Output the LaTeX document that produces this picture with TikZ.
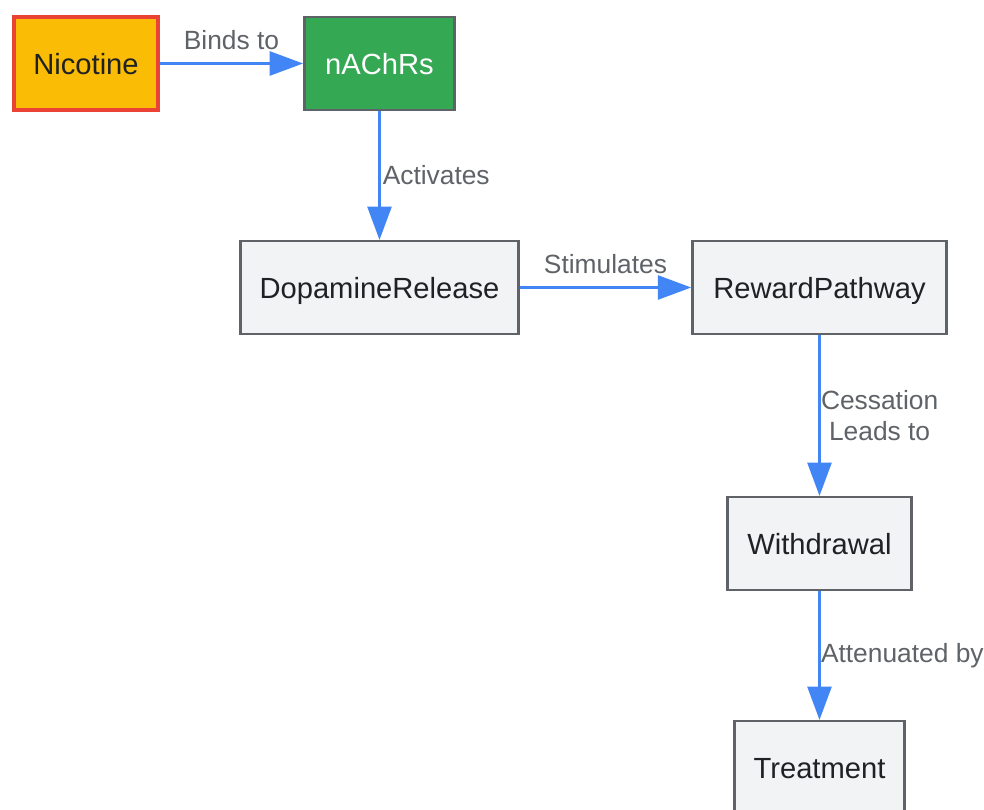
\documentclass[tikz,border=0pt]{standalone}
\usepackage{fontspec}
\setmainfont{Liberation Sans}
\usepackage{tikz}
\usetikzlibrary{arrows.meta}

\definecolor{nicfill}{HTML}{FBBC05}
\definecolor{nicedge}{HTML}{EA4335}
\definecolor{recfill}{HTML}{34A853}
\definecolor{boxfill}{HTML}{F1F3F4}
\definecolor{boxedge}{HTML}{5F6368}
\definecolor{flowblue}{HTML}{4285F4}
\definecolor{lblgray}{HTML}{5F6368}
\definecolor{txtdark}{HTML}{202124}

\tikzset{
    stage/.style={draw=boxedge, line width=1.4pt, fill=boxfill, text=txtdark,
        minimum height=52.7pt, inner sep=0pt, text height=16pt, text depth=3.8pt,
        font=\fontsize{16.6}{19}\selectfont},
    flow/.style={draw=flowblue, line width=1.7pt,
        -{Triangle[length=19pt, width=13.6pt]}},
    lbl/.style={text=lblgray, inner sep=0pt, align=center,
        font=\fontsize{15}{18}\selectfont}
}

\begin{document}
\begin{tikzpicture}[x=0.02cm, y=-0.02cm]
    \clip (0,0) rectangle (984,810);
    \fill[white] (0,0) rectangle (984,810);

    % Nodes
    \node[stage, fill=nicfill, draw=nicedge, line width=2.4pt,
        minimum width=81.6pt, minimum height=52.7pt] (nic) at (86,63.5) {Nicotine};
    \node[stage, fill=recfill, text=white, minimum width=85.6pt] (nach) at (379.5,63.5) {nAChRs};
    \node[stage, minimum width=158.2pt] (dopa) at (379.5,287.5) {DopamineRelease};
    \node[stage, minimum width=144.6pt] (reward) at (819.5,287.5) {RewardPathway};
    \node[stage, minimum width=104.9pt] (withd) at (819.5,543.5) {Withdrawal};
    \node[stage, minimum width=97pt] (treat) at (819.5,767.5) {Treatment};

    % Connectors
    \draw[flow] (nic) -- node[lbl, midway, yshift=13.6pt] {Binds to} (nach);
    \draw[flow] (nach) -- node[lbl, midway, anchor=west, xshift=1pt] {Activates} (dopa);
    \draw[flow] (dopa) -- node[lbl, midway, yshift=13.6pt] {Stimulates} (reward);
    \draw[flow] (reward) -- node[lbl, midway, anchor=west] {Cessation\\Leads to} (withd);
    \draw[flow] (withd) -- node[lbl, midway, anchor=west] {Attenuated by} (treat);
\end{tikzpicture}
\end{document}
